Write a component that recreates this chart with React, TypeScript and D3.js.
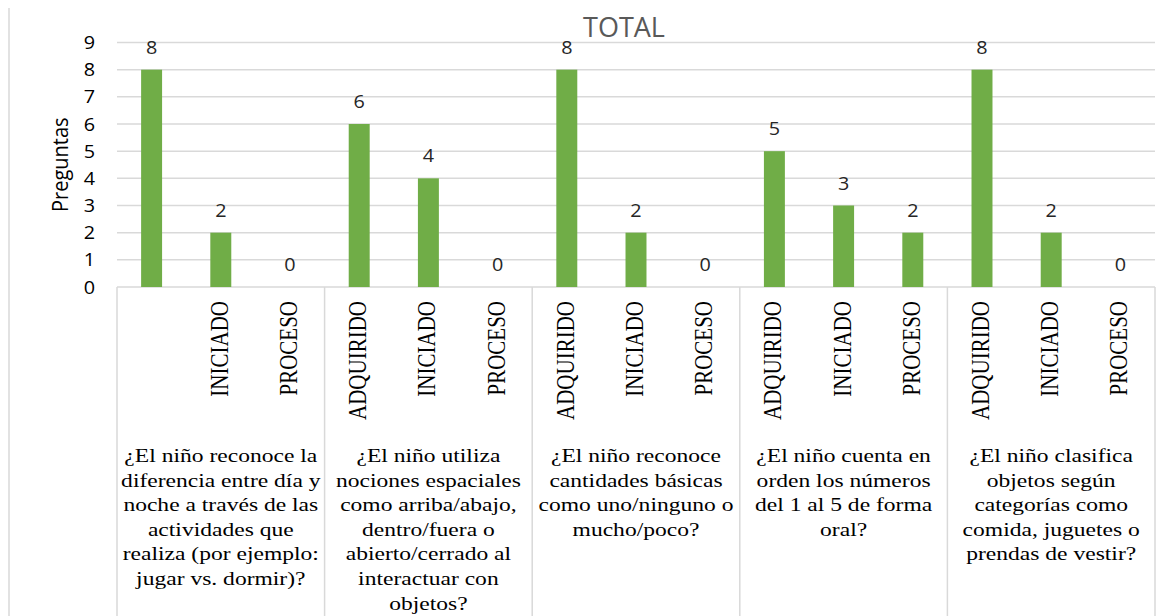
import React from "react";
import * as d3 from "d3";

const groupLines: string[][] = [
  ["¿El niño reconoce la", "diferencia entre día y", "noche a través de las", "actividades que", "realiza (por ejemplo:", "jugar vs. dormir)?"],
  ["¿El niño utiliza", "nociones espaciales", "como arriba/abajo,", "dentro/fuera o", "abierto/cerrado al", "interactuar con", "objetos?"],
  ["¿El niño reconoce", "cantidades básicas", "como uno/ninguno o", "mucho/poco?"],
  ["¿El niño cuenta en", "orden los números", "del 1 al 5 de forma", "oral?"],
  ["¿El niño clasifica", "objetos según", "categorías como", "comida, juguetes o", "prendas de vestir?"],
];
const levels = ["ADQUIRIDO", "INICIADO", "PROCESO"];
const levelLabels: string[][] = [
  ["", "INICIADO", "PROCESO"],
  ["ADQUIRIDO", "INICIADO", "PROCESO"],
  ["ADQUIRIDO", "INICIADO", "PROCESO"],
  ["ADQUIRIDO", "INICIADO", "PROCESO"],
  ["ADQUIRIDO", "INICIADO", "PROCESO"],
];
const values: number[][] = [
  [8, 2, 0],
  [6, 4, 0],
  [8, 2, 0],
  [5, 3, 2],
  [8, 2, 0],
];
const yTicks = [0, 1, 2, 3, 4, 5, 6, 7, 8, 9];
const title = "TOTAL";
const yTitle = "Preguntas";

const W = 1171;
const H = 616;
const left = 117;
const right = 1155;
const top = 42.5;
const bottom = 287;
const sans = "'Open Sans', 'Noto Sans', sans-serif";
const serif = "'Liberation Serif', 'Times New Roman', serif";

export default function App() {
  const x0 = d3.scaleBand<number>().domain(groupLines.map((_, i) => i)).range([left, right]).padding(0);
  const x1 = d3.scaleBand<string>().domain(levels).range([0, x0.bandwidth()]).paddingInner(0.697).paddingOuter(0.3485);
  const y = d3.scaleLinear().domain([0, 9]).range([bottom, top]);
  const grid = "#d9d9d9";

  return (
    <div style={{ position: "absolute", left: 0, top: 0 }}>
      <svg width={W} height={H} style={{ display: "block", background: "#fff" }}>
        <line x1={9} x2={9} y1={8} y2={H} stroke={grid} strokeWidth={1.5} />
        <text x={624} y={37} textAnchor="middle" fontFamily={sans} fontSize={27} fill="#595959">{title}</text>
        {yTicks.map((t) => (
          <g key={t}>
            <line x1={left} x2={right} y1={y(t)} y2={y(t)} stroke={grid} strokeWidth={1.5} />
            <text transform={`translate(95,${y(t) + 6.5}) scale(1.1,1)`} textAnchor="end" fontFamily={sans} fontSize={18} fill="#000">{t}</text>
          </g>
        ))}
        <text transform={`translate(68,${(top + bottom) / 2}) scale(1.1,1) rotate(-90)`} textAnchor="middle" fontFamily={sans} fontSize={20} fill="#000">{yTitle}</text>
        {d3.range(groupLines.length + 1).map((i) => {
          const xx = i < groupLines.length ? x0(i)! : right;
          return <line key={i} x1={xx} x2={xx} y1={bottom} y2={H} stroke={grid} strokeWidth={1.5} />;
        })}
        {values.map((gv, gi) => (
          <g key={gi}>
            {gv.map((v, li) => {
              const bx = x0(gi)! + x1(levels[li])!;
              const cx = bx + x1.bandwidth() / 2;
              return (
                <g key={li}>
                  {v > 0 && <rect x={bx} y={y(v)} width={x1.bandwidth()} height={y(0) - y(v)} fill="#70ad47" />}
                  <text transform={`translate(${cx},${y(v) - 16}) scale(1.1,1)`} textAnchor="middle" fontFamily={sans} fontSize={18} fill="#262626">{v}</text>
                  {levelLabels[gi][li] && (
                    <text transform={`translate(${cx + 7},301) scale(1.2,1) rotate(-90)`} textAnchor="end" fontFamily={serif} fontSize={21} fill="#000">{levelLabels[gi][li]}</text>
                  )}
                </g>
              );
            })}
            <g transform={`translate(${x0(gi)! + x0.bandwidth() / 2},0) scale(1.24,1)`}>
              {groupLines[gi].map((ln, k) => (
                <text key={k} x={0} y={462 + k * 24.6} textAnchor="middle" fontFamily={serif} fontSize={19} fill="#000">{ln}</text>
              ))}
            </g>
          </g>
        ))}
      </svg>
    </div>
  );
}
